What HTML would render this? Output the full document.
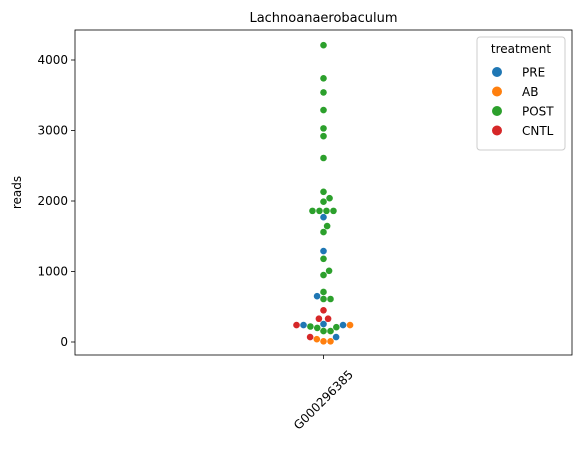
<!DOCTYPE html>
<html><head><meta charset="utf-8"><style>
body{margin:0;background:#fff;font-family:"Liberation Sans","DejaVu Sans",sans-serif}
svg text{font-family:"DejaVu Sans","Liberation Sans",sans-serif}
</style></head><body>
<svg id="c" width="580" height="450" xmlns="http://www.w3.org/2000/svg"></svg>
<script>
const categories = ["G000296385"];
const groups = ["PRE","AB","POST","CNTL"];
const colors = ["#1f77b4","#ff7f0e","#2ca02c","#d62728"];
const preValues = [1770,1290,650,240,240,255,70];
const abValues = [240,10,10,40];
const postValues = [4210,3740,3540,3290,3030,2920,2610,2130,2040,1990,1860,1860,1860,1860,1645,1560,1180,1010,950,710,610,610,200,210,220,155,155];
const cntlValues = [450,330,330,240,70];
const yTicks = [0,1000,2000,3000,4000];

const NS="http://www.w3.org/2000/svg";
const svg=document.getElementById('c');
const L=75,R=572,T=30,B=355;
const y=v=>342-v*0.0705;
const xc=i=>L+(R-L)*(i+0.5)/categories.length;
function mk(t,a,p){const e=document.createElementNS(NS,t);for(const k in a)e.setAttribute(k,a[k]);(p||svg).appendChild(e);return e;}

const frame=mk('rect',{x:L,y:T,width:R-L,height:B-T,fill:'none',stroke:'#000','stroke-width':0.8});


const title=mk('text',{x:(L+R)/2,y:22,'text-anchor':'middle','font-size':13});
title.textContent='Lachnoanaerobaculum';



yTicks.forEach(v=>{
  mk('line',{x1:L-4,x2:L,y1:y(v),y2:y(v),stroke:'#000','stroke-width':0.8});
  const t=mk('text',{x:L-7,y:y(v)+4,'text-anchor':'end','font-size':12});
  t.textContent=v;
  
  
});
const yl=mk('text',{x:21,y:(T+B)/2,'text-anchor':'middle','font-size':12,transform:`rotate(-90 21 ${(T+B)/2})`});
yl.textContent='reads';



categories.forEach((c,i)=>{
  const x=xc(i);
  mk('line',{x1:x,x2:x,y1:B,y2:B+4,stroke:'#000','stroke-width':0.8});
  const cy=B+45;
  const t=mk('text',{x:x,y:cy+4,'text-anchor':'middle','font-size':12,transform:`rotate(-45 ${x} ${cy})`});
  t.textContent=c;
  
  
});

// swarm (sorted by value, closest free position to center)
const pts=[];
[preValues,abValues,postValues,cntlValues].forEach((arr,g)=>arr.forEach(v=>pts.push({v,g})));
pts.sort((a,b)=>a.v-b.v);
const d=7.0, placed=[];
const cx=xc(0);
pts.forEach(p=>{
  const py=y(p.v);
  const cands=[cx];
  placed.forEach(q=>{const dy=Math.abs(q.y-py);if(dy<d){const dx=Math.sqrt(d*d-dy*dy)+0.01;cands.push(q.x+dx,q.x-dx);}});
  cands.sort((a,b)=>Math.abs(a-cx)-Math.abs(b-cx));
  let px=cx;
  for(const c of cands){
    if(placed.every(q=>Math.hypot(q.x-c,q.y-py)>=d-0.02)){px=c;break;}
  }
  placed.push({x:px,y:py});
  const c=mk('circle',{cx:px,cy:py,r:3.3,fill:colors[p.g]});
  
  
});

// legend
const lg=mk('g',{});


mk('rect',{x:477,y:37,width:88,height:113,rx:3,fill:'#fff',stroke:'#ccc'},lg);
const lt=mk('text',{x:521,y:53,'text-anchor':'middle','font-size':12},lg);
lt.textContent='treatment';
groups.forEach((g,i)=>{
  const yy=72+i*19.5;
  mk('circle',{cx:497,cy:yy,r:5,fill:colors[i]},lg);
  const t=mk('text',{x:522,y:yy+4.5,'font-size':12},lg);
  t.textContent=g;
  
  
});
</script>
</body></html>
